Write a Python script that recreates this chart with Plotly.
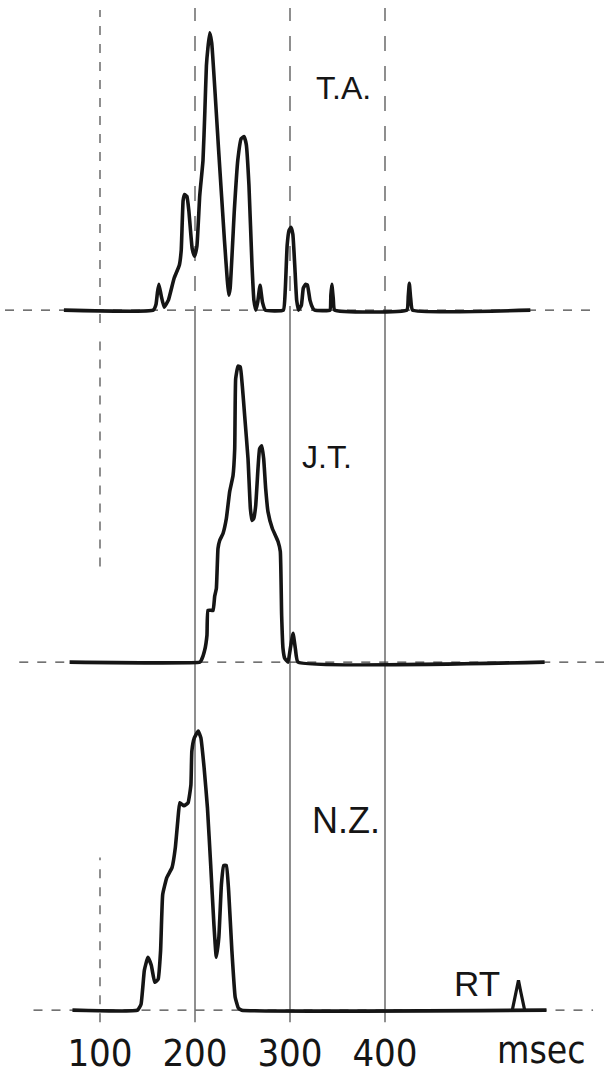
import plotly.graph_objects as go

# Latency histograms (msec) for three subjects, heights in arbitrary units
ta_ms = [62, 156, 159, 160.5, 162, 164.5, 167.5, 172, 178, 183.5,
         185.5, 187.5, 189, 191.5, 193.5, 197, 199.5, 202, 205, 208.4,
         210.4, 212, 213.5, 215.5, 217.6, 224.9, 231, 234, 235.5, 237,
         241.4, 245, 248.6, 251.7, 254, 256.8, 260, 262, 264, 266,
         268.5, 271, 274, 293, 295, 297, 299, 301, 303, 305,
         307, 309, 312, 314, 316.5, 318.4, 321, 324, 326, 342,
         343, 344, 345.5, 347, 423, 424.5, 425.6, 427, 429, 553]
ta_h = [0, 0, 6, 18, 26, 14, 3, 10, 32, 45,
        60, 110, 116, 114, 100, 62, 54, 64, 115, 150,
        200, 245, 262, 278, 268, 160, 70, 30, 15, 22,
        100, 150, 172, 174, 166, 125, 45, 10, 0, 8,
        25, 8, 0, 0, 20, 65, 80, 83, 76, 45,
        10, 0, 5, 22, 26, 25, 10, 2, 0, 0,
        15, 26, 12, 0, 0, 14, 27, 12, 0, 0]

jt_ms = [68, 205, 206.7, 210.2, 212.6, 213.7, 219, 220.7, 222.5, 224.2, 226, 229.5, 233,
         236.5, 240, 241.8, 242.8, 245.3, 247.7, 249.8, 252.3, 255.8, 258.3, 260, 261.8,
         263.9, 266.3, 268, 270.2, 272.3, 274.4, 276.8, 281.4, 287.4, 289.8, 291.2, 292.6,
         294.4, 297.9, 300.4, 303.2, 305.6, 308.4, 568]
jt_h = [0, 0, 2, 12, 27, 52, 52, 66, 74, 114, 122, 129, 144, 171, 187, 214, 284, 297,
        296, 277, 247, 204, 154, 142, 144, 157, 194, 214, 217, 204, 174, 151, 134, 121,
        111, 47, 14, 4, 0, 14, 29, 14, 0, 0]

nz_ms = [71, 139.5, 143.2, 146.7, 150.4, 154, 157.6, 161.2, 163.8, 166, 170.3, 175.8,
         179.3, 181.9, 184, 188.4, 192.7, 195.7, 196.7, 199.3, 203.4, 206.2, 209.6, 213.1,
         216.5, 219.9, 222.4, 225.1, 227.8, 230.2, 233, 235.4, 238.8, 242.3, 245.7, 249.2,
         570]
nz_h = [0, 0, 6, 40, 53, 45, 28, 31, 60, 116, 133, 143, 163, 190, 208, 205, 208, 226,
        260, 273, 280, 273, 243, 203, 146, 86, 53, 73, 126, 145, 145, 120, 60, 13, 2, 0, 0]

# reaction-time marker on the bottom trace
rt_ms = [534, 538, 540.5, 543, 547]
rt_h = [0, 18, 30, 18, 0]

tick_vals = [100, 200, 300, 400]
tick_text = ["100", "200", "300", "400"]

subjects = ["T.A.", "J.T.", "N.Z."]

# page geometry (pixels) and the horizontal scale
W, H = 604, 1075
PX0, PX_PER_MS = 5.0, 0.95
baselines_px = [311, 664, 1013]
UNITS_BELOW, UNITS_ABOVE = 12, 300


def py(px):
    return (H - px) / H


ink = "#151515"
narrow = "Liberation Sans Narrow, DejaVu Sans Condensed, sans-serif"
fig = go.Figure()

series = [(ta_ms, ta_h), (jt_ms, jt_h), (nz_ms, nz_h)]
axes = ["y", "y2", "y3"]
for (xs, hs), ax, name in zip(series, axes, subjects):
    fig.add_trace(go.Scatter(x=xs, y=hs, mode="lines", yaxis=ax, name=name,
                             line=dict(color=ink, width=3.6, shape="spline", smoothing=0.35),
                             showlegend=False, hoverinfo="skip"))
fig.add_trace(go.Scatter(x=rt_ms, y=rt_h, mode="lines", yaxis="y3", name="RT",
                         line=dict(color=ink, width=3.2), showlegend=False,
                         hoverinfo="skip"))

shapes = []
# dashed reference baselines for each panel
base_spans = [(0, 619), (15, 640), (30, 619)]
for (x0, x1), ax in zip(base_spans, axes):
    shapes.append(dict(type="line", xref="x", yref=ax, x0=x0, x1=x1, y0=0, y1=0,
                       line=dict(color="#444", width=1.2, dash="dash"), layer="below"))

# vertical time grid
grid_segments = {
    100: [(10, 324, "dash"), (334, 568, "dash"), (860, 1025, "dash")],
    200: [(8, 322, "longdash"), (322, 1025, "solid")],
    300: [(8, 322, "longdash"), (322, 1025, "solid")],
    400: [(8, 322, "longdash"), (322, 1025, "solid")],
}
for xv, segs in grid_segments.items():
    for top, bot, dash in segs:
        shapes.append(dict(type="line", xref="x", yref="paper", x0=xv, x1=xv,
                           y0=py(bot), y1=py(top),
                           line=dict(color="#333", width=1.1, dash=dash), layer="below"))

label_font = dict(family="Liberation Sans, Arial, sans-serif", color=ink)
annotations = [
    dict(text="T.A.", x=356, y=223, xref="x", yref="y", showarrow=False,
         font=dict(size=32, **label_font)),
    dict(text="J.T.", x=339, y=206, xref="x", yref="y2", showarrow=False,
         font=dict(size=32, **label_font)),
    dict(text="N.Z.", x=359, y=190, xref="x", yref="y3", showarrow=False,
         font=dict(size=36, **label_font)),
    dict(text="RT", x=497, y=27, xref="x", yref="y3", showarrow=False,
         font=dict(size=35, **label_font)),
    dict(text="msec", x=565, y=py(1053), xref="x", yref="paper", showarrow=False,
         yanchor="middle", font=dict(size=37, family=narrow, color=ink)),
]

layout_axes = {}
for ax_name, base in zip(["yaxis", "yaxis2", "yaxis3"], baselines_px):
    layout_axes[ax_name] = dict(
        domain=[py(base + UNITS_BELOW), py(base - UNITS_ABOVE)],
        range=[-UNITS_BELOW, UNITS_ABOVE], visible=False, fixedrange=True)

fig.update_layout(
    width=W, height=H,
    margin=dict(l=0, r=0, t=0, b=0),
    paper_bgcolor="white", plot_bgcolor="rgba(0,0,0,0)",
    xaxis=dict(range=[-PX0 / PX_PER_MS, (W - PX0) / PX_PER_MS], domain=[0, 1],
               anchor="free", position=py(baselines_px[2]),
               tickvals=tick_vals, ticktext=tick_text, ticks="", showgrid=False,
               zeroline=False, showline=False,
               tickfont=dict(size=38, family=narrow, color=ink),
               ticklabelstandoff=17, fixedrange=True),
    shapes=shapes,
    annotations=annotations,
    **layout_axes,
)

fig.write_html("out.html")
